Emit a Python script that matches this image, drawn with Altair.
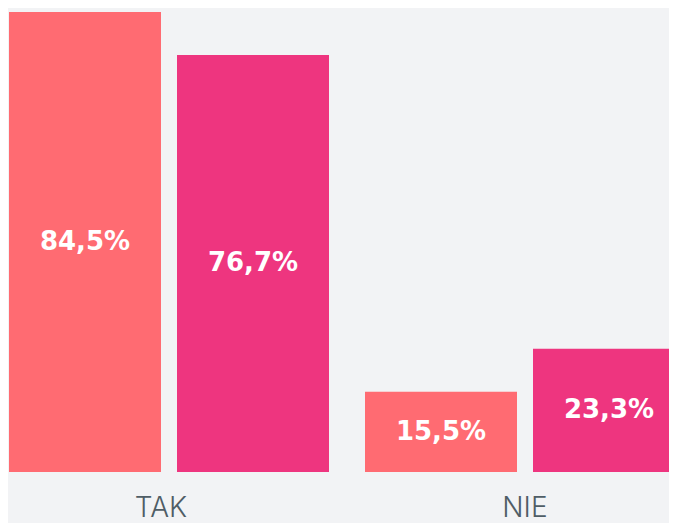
import altair as alt
import pandas as pd

categories = ["TAK", "TAK", "NIE", "NIE"]
series = ["A", "B", "A", "B"]
values = [84.5, 76.7, 15.5, 23.3]
labels = ["84,5%", "76,7%", "15,5%", "23,3%"]

df = pd.DataFrame({"cat": categories, "series": series, "value": values, "label": labels})

BASE = 0.9
TOP = 85.23

x_enc = alt.X(
    "cat:N",
    sort=["TAK", "NIE"],
    scale=alt.Scale(range=[1, 677], paddingInner=36 / 356, paddingOuter=0),
    axis=alt.Axis(
        title=None, domain=False, ticks=False, grid=False,
        labelFontSize=28, labelFont="Inter", labelFontWeight=300,
        labelColor="#4f5d66", labelPadding=22, labelAngle=0,
        labelOffset={"condition": {"test": "datum.value == 'TAK'", "value": -8}, "value": 0},
    ),
)
xo_enc = alt.XOffset("series:N", scale=alt.Scale(paddingInner=16 / 168, paddingOuter=0))

base = alt.Chart(df).encode(x=x_enc, xOffset=xo_enc)

bars = base.mark_bar(clip=True).encode(
    y=alt.Y("value:Q", scale=alt.Scale(domain=[BASE, TOP], clamp=True), axis=None),
    color=alt.Color("series:N", scale=alt.Scale(domain=["A", "B"], range=["#ff6b72", "#ee357f"]), legend=None),
)

text = base.mark_text(
    font="DejaVu Sans", fontWeight="bold", fontSize=26, color="white", baseline="middle"
).transform_calculate(
    mid=f"(datum.value + {BASE}) / 2"
).encode(
    y=alt.Y("mid:Q", scale=alt.Scale(domain=[BASE, TOP], clamp=True), axis=None),
    text="label:N",
)

chart = alt.layer(bars, text).properties(
    width=661, height=464,
    background="#f2f3f5",
    padding={"left": 0, "top": 0, "right": 0, "bottom": 51},
    autosize=alt.AutoSizeParams(type="none"),
).configure_view(stroke=None)

chart.save("out.html", embed_options={"renderer": "svg", "actions": False})
